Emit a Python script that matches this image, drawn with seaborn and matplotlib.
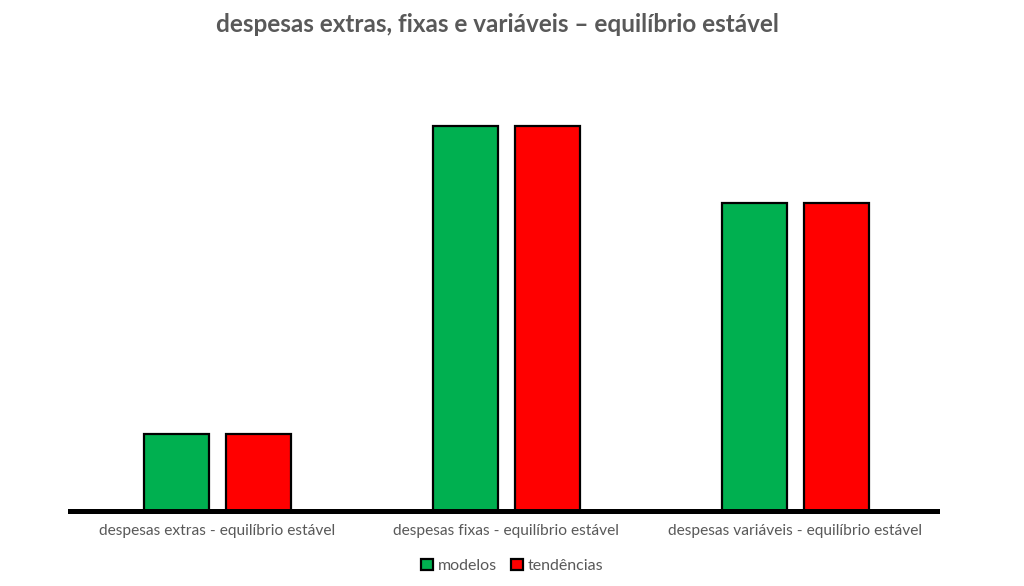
import matplotlib
matplotlib.use("Agg")
import matplotlib.pyplot as plt
import seaborn as sns
import pandas as pd

categories = ["despesas extras - equilíbrio estável",
              "despesas fixas - equilíbrio estável",
              "despesas variáveis - equilíbrio estável"]
series_names = ["modelos", "tendências"]
modelos = [1, 5, 4]
tendencias = [1, 5, 4]
colors = ["#00B050", "#FF0000"]

df = pd.DataFrame({
    "categoria": categories * 2,
    "serie": [series_names[0]] * 3 + [series_names[1]] * 3,
    "valor": modelos + tendencias,
})

sns.set_theme(style="white")
plt.rcParams['font.family'] = ['Lato', 'DejaVu Sans']

fig = plt.figure(figsize=(10.24, 5.86), dpi=100)
ax = fig.add_axes([70 / 1024, 1 - 511 / 586, 867 / 1024, 431 / 586])

sns.barplot(data=df, x="categoria", y="valor", hue="serie",
            palette=colors, saturation=1, width=0.5675, gap=0.207,
            edgecolor="black", linewidth=1.6, ax=ax, legend=True)

ax.set_ylim(0, 5.6)
ax.set_xlim(-0.51, 2.49)
ax.set_xlabel("")
ax.set_ylabel("")
ax.set_yticks([])
for s in ["top", "right", "left"]:
    ax.spines[s].set_visible(False)
ax.spines["bottom"].set_color("black")
ax.spines["bottom"].set_linewidth(3.6)
ax.tick_params(axis="x", length=0, pad=9, labelsize=11.2, labelcolor="#595959")

handles, labels = ax.get_legend_handles_labels()
ax.get_legend().remove()
fig.legend(handles, labels, loc="center", bbox_to_anchor=(0.5, 1 - 566 / 586),
           ncol=2, frameon=False, fontsize=11.5, labelcolor="#595959",
           handlelength=0.75, handleheight=0.75, handletextpad=0.3, columnspacing=0.9)

fig.suptitle("despesas extras, fixas e variáveis – equilíbrio estável",
             x=497.5 / 1024, y=1 - 24 / 586, va="center", fontsize=17.5,
             fontweight="bold", color="#595959")

fig.savefig("out.png", dpi=100, facecolor="white")
